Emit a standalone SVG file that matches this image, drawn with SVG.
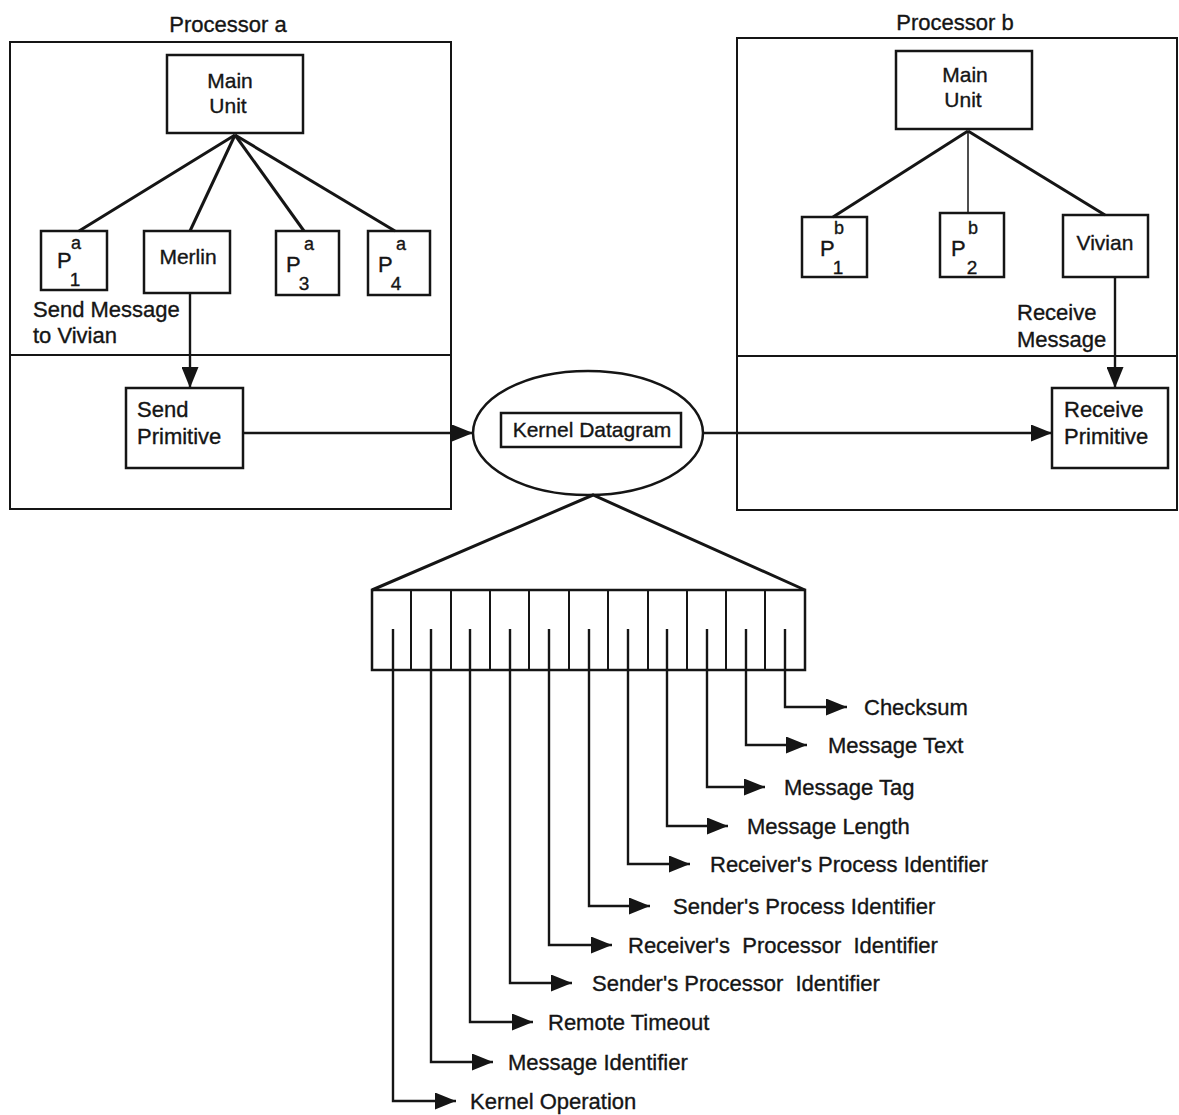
<svg xmlns="http://www.w3.org/2000/svg" width="1179" height="1115" viewBox="0 0 1179 1115">
<style>
text{font-family:"Liberation Sans",Arial,sans-serif;font-size:22px;fill:#151515;stroke:#151515;stroke-width:0.35}
.lbl text{white-space:pre}
.frame{fill:none;stroke:#151515;stroke-width:2}
.box{fill:#fff;stroke:#151515;stroke-width:2.5}
.open{fill:none;stroke:#151515;stroke-width:2.5}
.tree{fill:none;stroke:#151515;stroke-width:3}
.thin{fill:none;stroke:#151515;stroke-width:1.5}
.arr{fill:none;stroke:#151515;stroke-width:2.4}
.sm{font-size:21px}
.sub{font-size:19px}
.sup{font-size:18px}
.big{font-size:22px}
</style>
<defs>
<marker id="ah" markerUnits="userSpaceOnUse" markerWidth="21" markerHeight="17" refX="21" refY="8.5" orient="auto">
<path d="M0,0 L21,8.5 L0,17 z" fill="#151515"/>
</marker>
</defs>
<rect width="1179" height="1115" fill="#fff"/>

<g id="processor-a">
<text x="228" y="32" text-anchor="middle">Processor a</text>
<rect class="frame" x="10" y="42" width="441" height="467"/>
<line class="frame" x1="10" y1="355" x2="451" y2="355"/>
</g>
<g id="processor-b">
<text x="955" y="30" text-anchor="middle">Processor b</text>
<rect class="frame" x="737" y="38" width="440" height="472"/>
<line class="frame" x1="737" y1="356" x2="1177" y2="356"/>
</g>

<g id="main-unit-a">
<rect class="box" x="167" y="55" width="136" height="78"/>
<text class="sm" x="230" y="88" text-anchor="middle">Main</text>
<text class="sm" x="228" y="113" text-anchor="middle">Unit</text>
</g>
<g id="p1-a">
<rect class="box" x="41" y="231" width="66" height="59"/>
<text x="57" y="268" class="big">P</text>
<text x="76" y="249" class="sup" text-anchor="middle">a</text>
<text x="75" y="286" class="sub" text-anchor="middle">1</text>
</g>
<g id="merlin">
<rect class="box" x="144" y="231" width="86" height="62"/>
<text class="sm" x="188" y="264" text-anchor="middle">Merlin</text>
</g>
<g id="p3-a">
<rect class="box" x="276" y="231" width="63" height="64"/>
<text x="286" y="272" class="big">P</text>
<text x="309" y="250" class="sup" text-anchor="middle">a</text>
<text x="304" y="290" class="sub" text-anchor="middle">3</text>
</g>
<g id="p4-a">
<rect class="box" x="368" y="231" width="62" height="64"/>
<text x="378" y="272" class="big">P</text>
<text x="401" y="250" class="sup" text-anchor="middle">a</text>
<text x="396" y="290" class="sub" text-anchor="middle">4</text>
</g>
<g id="send-label">
<text x="33" y="317">Send Message</text>
<text x="33" y="343">to Vivian</text>
</g>
<g id="send-primitive">
<rect class="box" x="126" y="388" width="117" height="80"/>
<text x="137" y="417">Send</text>
<text x="137" y="444">Primitive</text>
</g>

<g id="main-unit-b">
<rect class="box" x="896" y="51" width="136" height="78"/>
<text class="sm" x="965" y="82" text-anchor="middle">Main</text>
<text class="sm" x="963" y="107" text-anchor="middle">Unit</text>
</g>
<g id="p1-b">
<rect class="box" x="802" y="217" width="65" height="60"/>
<text x="820" y="256" class="big">P</text>
<text x="839" y="234" class="sup" text-anchor="middle">b</text>
<text x="838" y="274" class="sub" text-anchor="middle">1</text>
</g>
<g id="p2-b">
<rect class="box" x="940" y="213" width="64" height="64"/>
<text x="951" y="256" class="big">P</text>
<text x="973" y="234" class="sup" text-anchor="middle">b</text>
<text x="972" y="274" class="sub" text-anchor="middle">2</text>
</g>
<g id="vivian">
<rect class="box" x="1063" y="215" width="85" height="62"/>
<text class="sm" x="1105" y="250" text-anchor="middle">Vivian</text>
</g>
<g id="receive-label">
<text x="1017" y="320">Receive</text>
<text x="1017" y="347">Message</text>
</g>
<g id="receive-primitive">
<rect class="box" x="1052" y="388" width="116" height="80"/>
<text x="1064" y="417">Receive</text>
<text x="1064" y="444">Primitive</text>
</g>

<g id="kernel-datagram">
<ellipse class="box" cx="588" cy="433" rx="115" ry="62"/>
<rect class="box" x="501" y="413" width="180" height="34"/>
<text class="sm" x="592" y="437" text-anchor="middle">Kernel Datagram</text>
</g>

<g id="datagram-fields">
<rect class="open" x="372" y="590" width="433" height="80"/>
<g class="frame">
<line x1="411" y1="590" x2="411" y2="670"/>
<line x1="451" y1="590" x2="451" y2="670"/>
<line x1="490" y1="590" x2="490" y2="670"/>
<line x1="529" y1="590" x2="529" y2="670"/>
<line x1="569" y1="590" x2="569" y2="670"/>
<line x1="608" y1="590" x2="608" y2="670"/>
<line x1="648" y1="590" x2="648" y2="670"/>
<line x1="687" y1="590" x2="687" y2="670"/>
<line x1="726" y1="590" x2="726" y2="670"/>
<line x1="765" y1="590" x2="765" y2="670"/>
</g>
</g>

<g id="connectors">
<line class="tree" x1="235" y1="135" x2="79" y2="231"/>
<line class="tree" x1="235" y1="135" x2="190" y2="231"/>
<line class="tree" x1="235" y1="135" x2="304" y2="231"/>
<line class="tree" x1="235" y1="135" x2="395" y2="231"/>
<line class="tree" x1="968" y1="131" x2="833" y2="217"/>
<line class="thin" x1="968" y1="131" x2="968" y2="213"/>
<line class="tree" x1="968" y1="131" x2="1105" y2="215"/>
<line class="arr" x1="190" y1="293" x2="190" y2="388" marker-end="url(#ah)"/>
<line class="arr" x1="1115" y1="277" x2="1115" y2="388" marker-end="url(#ah)"/>
<line class="arr" x1="243" y1="433" x2="473" y2="433" marker-end="url(#ah)"/>
<line class="arr" x1="703" y1="433" x2="1052" y2="433" marker-end="url(#ah)"/>
<polyline class="tree" points="372,590 593,495 805,590"/>
<polyline class="arr" points="785,629 785,707 847,707" marker-end="url(#ah)"/>
<polyline class="arr" points="746,629 746,745 807,745" marker-end="url(#ah)"/>
<polyline class="arr" points="707,629 707,787 765,787" marker-end="url(#ah)"/>
<polyline class="arr" points="667,629 667,826 728,826" marker-end="url(#ah)"/>
<polyline class="arr" points="628,629 628,864 690,864" marker-end="url(#ah)"/>
<polyline class="arr" points="589,629 589,906 650,906" marker-end="url(#ah)"/>
<polyline class="arr" points="549,629 549,945 612,945" marker-end="url(#ah)"/>
<polyline class="arr" points="510,629 510,983 572,983" marker-end="url(#ah)"/>
<polyline class="arr" points="470,629 470,1022 533,1022" marker-end="url(#ah)"/>
<polyline class="arr" points="431,629 431,1062 493,1062" marker-end="url(#ah)"/>
<polyline class="arr" points="393,629 393,1101 456,1101" marker-end="url(#ah)"/>
</g>

<g id="field-labels" class="lbl">
<text x="864" y="715">Checksum</text>
<text x="828" y="753">Message Text</text>
<text x="784" y="795">Message Tag</text>
<text x="747" y="834">Message Length</text>
<text x="710" y="872">Receiver's Process Identifier</text>
<text x="673" y="914">Sender's Process Identifier</text>
<text x="628" y="953" xml:space="preserve">Receiver's  Processor  Identifier</text>
<text x="592" y="991" xml:space="preserve">Sender's Processor  Identifier</text>
<text x="548" y="1030">Remote Timeout</text>
<text x="508" y="1070">Message Identifier</text>
<text x="470" y="1109">Kernel Operation</text>
</g>
</svg>
